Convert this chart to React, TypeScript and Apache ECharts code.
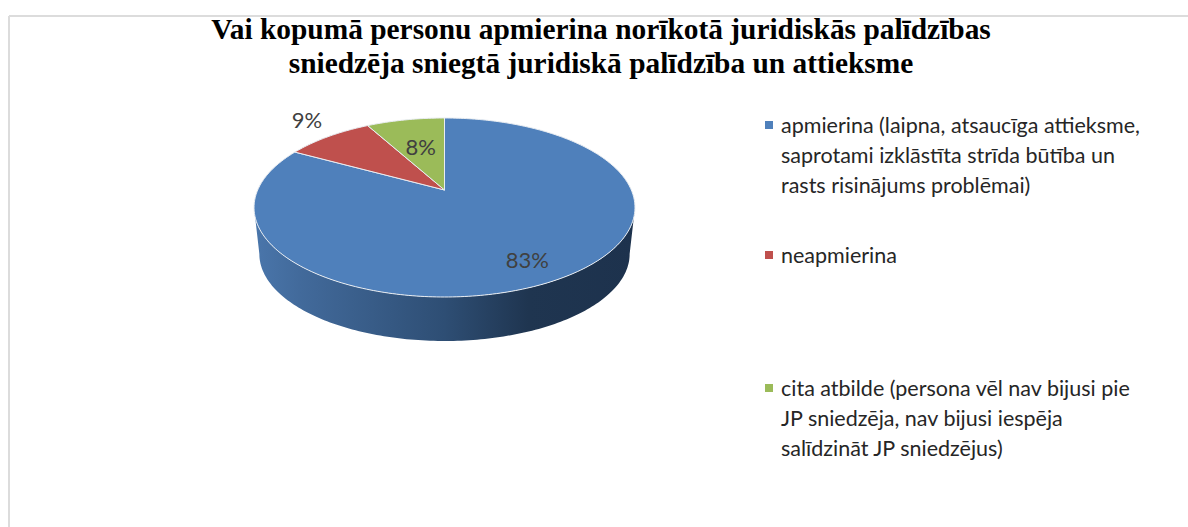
import React, { useEffect, useRef } from "react";
import * as echarts from "echarts";

const titleLines = [
  "Vai kopumā personu apmierina norīkotā juridiskās palīdzības",
  "sniedzēja sniegtā juridiskā palīdzība un attieksme",
];
const categories = [
  "apmierina (laipna, atsaucīga attieksme,\nsaprotami izklāstīta strīda būtība un\nrasts risinājums problēmai)",
  "neapmierina",
  "cita atbilde (persona vēl nav bijusi pie\nJP sniedzēja, nav bijusi iespēja\nsalīdzināt JP sniedzējus)",
];
const values = [83, 9, 8];
const colors = ["#4f80bb", "#bf504d", "#9bbb59"];

// Geometry of the perspective-projected pie
const APEX_X = 444.5;
const APEX_Y = 190;
const PERSP = 0.1955; // perspective foreshortening
const SCALE_X = 186.8;
const SCALE_Y = 86.08;
const BOTTOM_SCALE = 0.972;
const BOTTOM_DROP = 47;
const FRONT_FROM = 101.3; // degrees clockwise from 12 o'clock: visible side wall
const FRONT_TO = 258.7;
const LABEL_R = [0.76, 1.3, 0.57];
const LABEL_SHIFT = [[0, 5], [8, -3], [0, -1]];
const LEGEND_Y = [125, 255, 388];

const project = (deg: number, r: number, bottom = false): [number, number] => {
  const t = (deg * Math.PI) / 180;
  const u = r * Math.sin(t);
  const v = r * Math.cos(t);
  const d = 1 + PERSP * v;
  const X = (SCALE_X * u) / d;
  const Y = (SCALE_Y * v) / d;
  return bottom
    ? [APEX_X + BOTTOM_SCALE * X, APEX_Y - BOTTOM_SCALE * Y + BOTTOM_DROP]
    : [APEX_X + X, APEX_Y - Y];
};

const total = values.reduce((a, b) => a + b, 0);

const renderSlice = (params: any, api: any) => {
  const i = params.dataIndex;
  const before = values.slice(0, i).reduce((a, b) => a + b, 0);
  const val = api.value(0);
  const start = (before / total) * 360;
  const end = ((before + val) / total) * 360;
  const children: any[] = [];

  const sFrom = Math.max(start, FRONT_FROM);
  const sTo = Math.min(end, FRONT_TO);
  if (sTo > sFrom) {
    const pts: number[][] = [];
    for (let a = sFrom; a <= sTo; a += 1) pts.push(project(a, 1));
    pts.push(project(sTo, 1));
    pts.push(project(sTo, 1, true));
    for (let a = sTo; a >= sFrom; a -= 1) pts.push(project(a, 1, true));
    pts.push(project(sFrom, 1, true));
    children.push({
      type: "polygon",
      shape: { points: pts },
      style: {
        fill: new echarts.graphic.LinearGradient(0, 0, 1, 0, [
          { offset: 0, color: "#4a76ab" },
          { offset: 0.12, color: "#426a9b" },
          { offset: 0.5, color: "#2e4e74" },
          { offset: 0.72, color: "#1f3550" },
          { offset: 1, color: "#1d324d" },
        ]),
        stroke: "none",
      },
    });
  }

  const top: number[][] = [[APEX_X, APEX_Y]];
  for (let a = start; a <= end; a += 1) top.push(project(a, 1));
  top.push(project(end, 1));
  children.push({
    type: "polygon",
    shape: { points: top },
    style: { fill: colors[i], stroke: "#e9edf2", lineWidth: 1, lineJoin: "round" },
  });

  const mid = (start + end) / 2;
  const [lx, ly] = project(mid, LABEL_R[i]);
  children.push({
    type: "text",
    x: lx + LABEL_SHIFT[i][0],
    y: ly + LABEL_SHIFT[i][1],
    z2: 10,
    style: {
      text: `${val}%`,
      fill: "#404040",
      font: '22px Lato',
      align: "center",
      verticalAlign: "middle",
    },
  });
  return { type: "group", children };
};

export default function App() {
  const ref = useRef<HTMLDivElement>(null);
  useEffect(() => {
    document.body.style.margin = "0";
    const chart = echarts.init(ref.current!, undefined, { renderer: "svg" });
    const legendEls: any[] = [];
    categories.forEach((c, i) => {
      legendEls.push({
        type: "rect",
        shape: { x: 765, y: LEGEND_Y[i] - 4, width: 8, height: 8 },
        style: { fill: colors[i] },
      });
      legendEls.push({
        type: "text",
        x: 781,
        y: LEGEND_Y[i] - 15.5,
        style: {
          text: c,
          fill: "#262626",
          font: "21.5px Lato",
          lineHeight: 30,
          align: "left",
          verticalAlign: "top",
        },
      });
    });
    chart.setOption({
      animation: false,
      backgroundColor: "#ffffff",
      title: {
        text: titleLines.join("\n"),
        left: 596,
        top: 7,
        textAlign: "center",
        textStyle: {
          fontFamily: "Liberation Serif",
          fontWeight: "bold",
          fontSize: 29.4,
          lineHeight: 34,
          color: "#000000",
        },
      },
      graphic: [
        {
          type: "line",
          shape: { x1: 9, y1: 16, x2: 1188, y2: 16 },
          style: { stroke: "#dcdcdc", lineWidth: 2 },
        },
        {
          type: "line",
          shape: { x1: 9, y1: 16, x2: 9, y2: 527 },
          style: { stroke: "#dcdcdc", lineWidth: 2 },
        },
        ...legendEls,
      ],
      series: [
        {
          type: "custom",
          coordinateSystem: "none",
          renderItem: renderSlice,
          data: values.map((v, i) => ({ value: [v], name: categories[i] })),
        },
      ],
    });
    return () => chart.dispose();
  }, []);
  return (
    <div
      ref={ref}
      style={{ position: "absolute", left: 0, top: 0, width: 1188, height: 527 }}
    />
  );
}
